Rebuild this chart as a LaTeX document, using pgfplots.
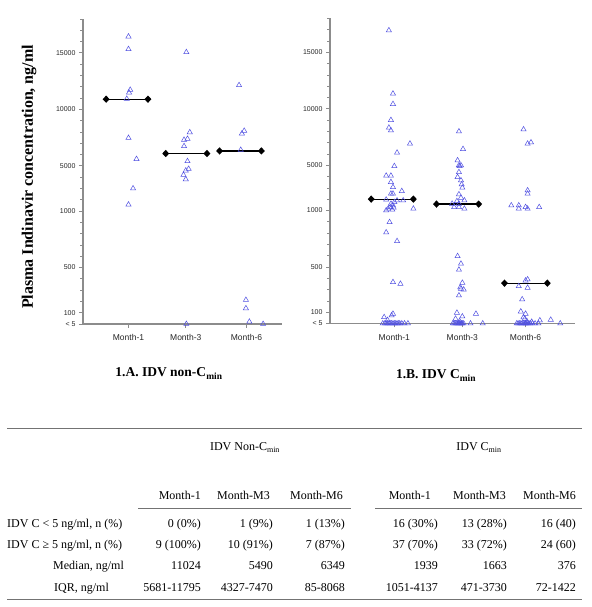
\documentclass[border=0pt]{standalone}
\usepackage{fontspec}
\setmainfont{Liberation Serif}
\setsansfont{Liberation Sans}
\usepackage{pgfplots}
\usepackage{pgfplotstable}
\pgfplotsset{compat=1.18}
\definecolor{tri}{RGB}{80,80,225}
\definecolor{axgray}{RGB}{140,140,140}

% values in ng/ml; 0 = "< 5"
\pgfplotstableread{
x v
1.00 16450
1.00 15330
1.03 11730
1.01 11490
0.97 10930
1.00 7470
1.14 5600
1.08 3000
1.00 1570
2.01 15060
2.07 7970
2.03 7390
1.97 7300
1.97 6740
2.03 5410
2.05 4730
2.00 4580
1.96 4200
2.00 3810
2.01 0
2.93 12140
3.02 8100
2.98 7860
2.96 6410
3.05 213
3.05 139
3.11 20
3.35 0
}\LA

\pgfplotstableread{
x v
0.92 16950
0.98 11350
0.98 10430
0.95 9010
0.92 8330
0.95 8090
1.23 6920
1.04 6120
1.00 4930
0.88 4080
0.95 4080
0.95 3520
0.98 3070
1.11 2720
0.95 2490
0.98 2490
0.88 1960
1.04 1890
1.13 1890
0.95 1600
0.98 1450
0.94 1300
0.97 1070
0.88 1010
1.28 1160
0.91 1160
1.00 1750
0.99 1250
0.93 897
0.88 806
1.04 729
0.98 366
1.09 351
0.85 56
0.96 71
0.98 86
0.90 30
0.83 0
0.86 0
0.88 0
0.90 0
0.92 0
0.94 0
0.96 0
0.98 0
1.00 0
1.02 0
1.04 0
1.06 0
1.08 0
1.11 0
1.15 0
1.20 0
1.95 8000
2.01 6440
1.93 5440
1.95 5000
1.98 5000
1.96 4930
1.95 4400
1.93 3960
1.98 3670
1.99 3310
2.00 3020
1.95 2430
1.98 2130
2.03 1890
1.92 1830
1.85 1600
1.95 1600
1.88 1300
1.95 1300
2.03 1160
1.93 596
1.98 529
1.95 476
2.00 360
1.97 320
1.98 307
2.02 300
1.95 248
2.20 86
1.92 95
2.00 62
1.90 42
1.96 20
1.86 0
1.88 0
1.90 0
1.92 0
1.94 0
1.95 0
1.96 0
1.98 0
1.99 0
2.00 0
2.02 0
2.12 0
2.30 0
2.90 8180
3.01 7030
2.96 6920
2.96 2780
2.96 2490
2.72 1450
2.83 1450
2.83 1160
2.93 1300
2.96 1160
3.13 1300
2.93 380
2.96 390
2.83 330
2.96 316
2.88 213
2.86 106
2.93 86
2.92 42
3.14 27
3.30 33
2.90 55
2.95 20
3.02 15
2.80 0
2.82 0
2.84 0
2.86 0
2.88 0
2.90 0
2.92 0
2.93 0
2.94 0
2.96 0
2.98 0
3.00 0
3.03 0
3.07 0
3.12 0
3.44 0
}\RB

\pgfplotsset{
  pk/.style={
    scale only axis, height=305pt,
    ymin=0, ymax=27, enlargelimits=false, clip=false,
    axis x line=bottom, axis y line=left,
    axis line style={-, draw=axgray, line width=1.1pt},
    ytick={0,1,5,10,14,19,24},
    yticklabels={< 5,100,500,1000,5000,10000,15000},
    minor ytick={1,...,27},
    tick align=outside,
    major tick length=4pt, minor tick length=3pt,
    every tick/.style={draw=axgray, line width=0.8pt},
    yticklabel style={font=\sffamily\fontsize{7}{8}\selectfont, text=black!85},
    xticklabel style={font=\sffamily\fontsize{8.5}{10}\selectfont, text=black!85, yshift=-3pt},
  },
  pts/.style={only marks, mark=triangle, mark size=3pt, mark options={draw=tri, line width=0.5pt}},
  med/.style={black, line width=1.2pt, mark=diamond*, mark size=2.8pt, mark options={xscale=1.25}},
}

\begin{document}
\begin{tikzpicture}
\path[use as bounding box] (0,0) rectangle (591pt,607pt);

% ---------- Left panel ----------
\begin{axis}[pk, at={(83pt,283pt)}, anchor=south west, width=199pt,
  xmin=0.206, xmax=3.68, xtick={1,2,3.06}, xticklabels={Month-1,Month-3,Month-6}]
\addplot[pts] table[x=x, y expr={(\thisrow{v}>1000) ? (\thisrow{v}/1000+9) : (\thisrow{v}/100)}] {\LA};
\addplot[med] table[row sep=\\, x=x, y expr={(\thisrow{v}>1000) ? (\thisrow{v}/1000+9) : (\thisrow{v}/100)}] {x v\\ 0.61 10900\\ 1.34 10900\\};
\addplot[med] table[row sep=\\, x=x, y expr={(\thisrow{v}>1000) ? (\thisrow{v}/1000+9) : (\thisrow{v}/100)}] {x v\\ 1.65 6090\\ 2.37 6090\\};
\addplot[med] table[row sep=\\, x=x, y expr={(\thisrow{v}>1000) ? (\thisrow{v}/1000+9) : (\thisrow{v}/100)}] {x v\\ 2.59 6320\\ 3.32 6320\\};
\end{axis}

% ---------- Right panel ----------
\begin{axis}[pk, at={(330pt,283.5pt)}, anchor=south west, width=245pt,
  xmin=0.054, xmax=3.657, xtick={1,2,2.93}, xticklabels={Month-1,Month-3,Month-6}]
\addplot[pts] table[x=x, y expr={(\thisrow{v}>1000) ? (\thisrow{v}/1000+9) : (\thisrow{v}/100)}] {\RB};
\addplot[med] table[row sep=\\, x=x, y expr={(\thisrow{v}>1000) ? (\thisrow{v}/1000+9) : (\thisrow{v}/100)}] {x v\\ 0.66 2010\\ 1.28 2010\\};
\addplot[med] table[row sep=\\, x=x, y expr={(\thisrow{v}>1000) ? (\thisrow{v}/1000+9) : (\thisrow{v}/100)}] {x v\\ 1.62 1570\\ 2.24 1570\\};
\addplot[med] table[row sep=\\, x=x, y expr={(\thisrow{v}>1000) ? (\thisrow{v}/1000+9) : (\thisrow{v}/100)}] {x v\\ 2.62 357\\ 3.25 357\\};
\end{axis}

% y label and panel titles
\node[rotate=90, font=\bfseries\fontsize{16}{18}\selectfont] at (29pt,430pt) {Plasma Indinavir concentration, ng/ml};
\node[anchor=base, font=\bfseries\fontsize{13.5}{15}\selectfont] at (169pt,230pt) {1.A. IDV non-C\textsubscript{min}};
\node[anchor=base, font=\bfseries\fontsize{13.5}{15}\selectfont] at (436pt,228pt) {1.B. IDV C\textsubscript{min}};

% ---------- Table ----------
\draw[black!55, line width=1pt] (7pt,178pt) -- (582pt,178pt);
\draw[black!55, line width=1pt] (7pt,7pt) -- (582pt,7pt);
\draw[black!55, line width=0.8pt] (138pt,99pt) -- (351pt,99pt);
\draw[black!55, line width=0.8pt] (375pt,99pt) -- (582pt,99pt);

\begin{scope}[every node/.style={font=\fontsize{12}{14}\selectfont, inner sep=0pt}]
\node[anchor=base] at (245pt,156pt) {IDV Non-C\textsubscript{min}};
\node[anchor=base] at (479pt,156pt) {IDV C\textsubscript{min}};

\node[anchor=base east] at (201pt,107pt) {Month-1};
\node[anchor=base east] at (270pt,107pt) {Month-M3};
\node[anchor=base east] at (343pt,107pt) {Month-M6};
\node[anchor=base east] at (431pt,107pt) {Month-1};
\node[anchor=base east] at (506pt,107pt) {Month-M3};
\node[anchor=base east] at (576pt,107pt) {Month-M6};

\node[anchor=base west] at (7pt,79pt) {IDV C < 5 ng/ml, n (\%)};
\node[anchor=base west] at (7pt,58pt) {IDV C ≥ 5 ng/ml, n (\%)};
\node[anchor=base west] at (53pt,37pt) {Median, ng/ml};
\node[anchor=base west] at (54pt,16pt) {IQR, ng/ml};

\node[anchor=base east] at (201pt,79pt) {0 (0\%)};
\node[anchor=base east] at (273pt,79pt) {1 (9\%)};
\node[anchor=base east] at (345pt,79pt) {1 (13\%)};
\node[anchor=base east] at (438pt,79pt) {16 (30\%)};
\node[anchor=base east] at (507pt,79pt) {13 (28\%)};
\node[anchor=base east] at (576pt,79pt) {16 (40)};

\node[anchor=base east] at (201pt,58pt) {9 (100\%)};
\node[anchor=base east] at (273pt,58pt) {10 (91\%)};
\node[anchor=base east] at (345pt,58pt) {7 (87\%)};
\node[anchor=base east] at (438pt,58pt) {37 (70\%)};
\node[anchor=base east] at (507pt,58pt) {33 (72\%)};
\node[anchor=base east] at (576pt,58pt) {24 (60)};

\node[anchor=base east] at (201pt,37pt) {11024};
\node[anchor=base east] at (273pt,37pt) {5490};
\node[anchor=base east] at (345pt,37pt) {6349};
\node[anchor=base east] at (438pt,37pt) {1939};
\node[anchor=base east] at (507pt,37pt) {1663};
\node[anchor=base east] at (576pt,37pt) {376};

\node[anchor=base east] at (201pt,16pt) {5681-11795};
\node[anchor=base east] at (273pt,16pt) {4327-7470};
\node[anchor=base east] at (345pt,16pt) {85-8068};
\node[anchor=base east] at (438pt,16pt) {1051-4137};
\node[anchor=base east] at (507pt,16pt) {471-3730};
\node[anchor=base east] at (576pt,16pt) {72-1422};
\end{scope}
\end{tikzpicture}
\end{document}
